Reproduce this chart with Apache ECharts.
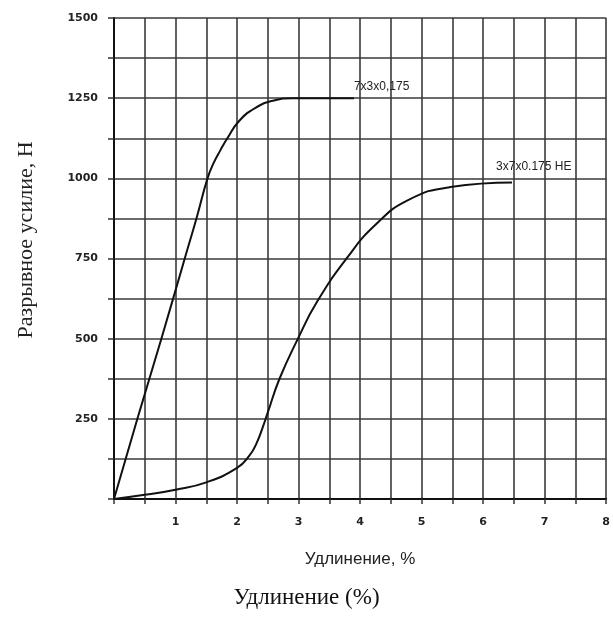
<!DOCTYPE html>
<html>
<head>
<meta charset="utf-8">
<script src="https://cdn.jsdelivr.net/npm/echarts@6/dist/echarts.min.js"></script>
<style>
html,body{margin:0;padding:0;background:#fff;}
#chart{width:613px;height:621px;}
</style>
</head>
<body>
<div id="chart"></div>
<script>
// Data (elongation %, breaking force N)
const seriesNames = ['7x3x0,175', '3x7x0.175 НЕ'];
const curve7x3 = [
  [0, 0], [0.38, 250], [0.77, 500], [1.15, 750], [1.34, 875], [1.52, 1000],
  [1.62, 1048], [1.73, 1088], [1.84, 1124], [2.03, 1178], [2.3, 1220],
  [2.6, 1243], [2.9, 1250], [3.9, 1250]
];
const curve3x7 = [
  [0, 0], [0.5, 13], [1, 29], [1.5, 52], [2, 97], [2.2, 135], [2.32, 175],
  [2.42, 225], [2.5, 270], [2.69, 375], [2.99, 500], [3.3, 615], [3.8, 755],
  [4.25, 855], [4.78, 932], [5.47, 973], [6.47, 987]
];
const xTickLabels = ['1', '2', '3', '4', '5', '6', '7', '8'];
const yTickLabels = ['250', '500', '750', '1000', '1250', '1500'];
const xAxisTitle = 'Удлинение, %';
const yAxisTitle = 'Разрывное усилие, Н';
const caption = 'Удлинение (%)';

const chart = echarts.init(document.getElementById('chart'), null, {renderer: 'canvas'});
const gridColor = '#3a3a3a';
const tickFont = {fontFamily: 'DejaVu Sans', fontSize: 11, fontWeight: 'bold', color: '#222'};

function fmtX(v) {
  const s = String(Math.round(v * 100) / 100);
  return xTickLabels.indexOf(s) >= 0 ? s : '';
}
function fmtY(v) {
  const s = String(Math.round(v));
  return yTickLabels.indexOf(s) >= 0 ? s : '';
}

chart.setOption({
  animation: false,
  backgroundColor: '#fff',
  title: {
    text: caption,
    left: 'center',
    top: 581,
    textStyle: {fontFamily: 'Liberation Serif', fontSize: 23, fontWeight: 'normal', color: '#111'}
  },
  graphic: [{
    type: 'text',
    x: 26, y: 240,
    rotation: Math.PI / 2,
    style: {text: yAxisTitle, fontFamily: 'Liberation Serif', fontSize: 22,
      fill: '#222', align: 'center', verticalAlign: 'middle'}
  }],
  grid: {left: 114, right: 4, top: 18, bottom: 122, containLabel: false},
  xAxis: {
    type: 'value', min: 0, max: 8, interval: 0.5,
    name: xAxisTitle, nameLocation: 'middle', nameGap: 52,
    nameTextStyle: {fontFamily: 'Liberation Sans', fontSize: 17, color: '#222'},
    axisLine: {show: true, onZero: false, lineStyle: {color: '#111', width: 2}},
    axisTick: {show: true, length: 5, lineStyle: {color: '#333', width: 1.5}},
    axisLabel: Object.assign({margin: 18, formatter: fmtX}, tickFont),
    splitLine: {show: true, lineStyle: {color: gridColor, width: 1.6}}
  },
  yAxis: {
    type: 'value', min: 0, max: 1500, interval: 125,
    axisLine: {show: true, onZero: false, lineStyle: {color: '#111', width: 2}},
    axisTick: {show: true, length: 6, lineStyle: {color: '#333', width: 1.5}},
    axisLabel: Object.assign({margin: 16, formatter: fmtY}, tickFont),
    splitLine: {show: true, lineStyle: {color: gridColor, width: 1.6}}
  },
  series: [
    {
      name: seriesNames[0], type: 'line', data: curve7x3,
      smooth: 0.5, showSymbol: false,
      lineStyle: {color: '#111', width: 2},
      endLabel: {show: true, formatter: seriesNames[0], offset: [-8, -11],
        fontFamily: 'Liberation Sans', fontSize: 12, color: '#222'}
    },
    {
      name: seriesNames[1], type: 'line', data: curve3x7,
      smooth: 0.5, showSymbol: false,
      lineStyle: {color: '#111', width: 2},
      endLabel: {show: true, formatter: seriesNames[1], offset: [-24, -16],
        fontFamily: 'Liberation Sans', fontSize: 12, color: '#222'}
    }
  ]
});
</script>
</body>
</html>
